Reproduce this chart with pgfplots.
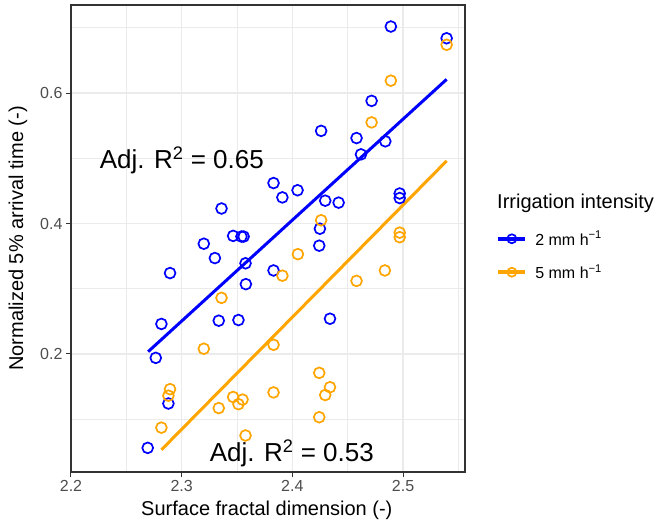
\documentclass[border=0pt]{standalone}
\usepackage{fontspec}
\setmainfont{Liberation Sans}
\usepackage{pgfplots}
\pgfplotsset{compat=1.18}
\usepackage{pgfplotstable}
\definecolor{grey92}{RGB}{235,235,235}
\definecolor{grey30}{RGB}{77,77,77}
\definecolor{grey20}{RGB}{51,51,51}
\definecolor{ggorange}{RGB}{255,165,0}
\definecolor{ggblue}{RGB}{0,0,255}
\pgfplotstableread{
x y
2.2693 0.056
2.2766 0.194
2.2817 0.246
2.2880 0.124
2.2895 0.324
2.3200 0.369
2.3300 0.347
2.3335 0.251
2.3360 0.423
2.3465 0.381
2.3513 0.252
2.3540 0.380
2.3560 0.380
2.3577 0.339
2.3580 0.307
2.3830 0.462
2.3830 0.328
2.3910 0.440
2.4047 0.451
2.4243 0.366
2.4249 0.392
2.4260 0.542
2.4297 0.435
2.4340 0.254
2.4418 0.432
2.4580 0.531
2.4620 0.506
2.4716 0.588
2.4840 0.526
2.4890 0.702
2.4970 0.446
2.4970 0.439
2.5394 0.684
}\bluedata
\pgfplotstableread{
x y
2.2817 0.087
2.2880 0.136
2.2895 0.146
2.3200 0.208
2.3335 0.117
2.3360 0.286
2.3465 0.134
2.3513 0.123
2.3550 0.130
2.3577 0.075
2.3830 0.214
2.3830 0.141
2.3910 0.320
2.4050 0.353
2.4243 0.171
2.4243 0.103
2.4260 0.405
2.4297 0.137
2.4340 0.149
2.4580 0.312
2.4716 0.555
2.4836 0.328
2.4890 0.619
2.4970 0.386
2.4970 0.379
2.5394 0.674
}\orangedata
\begin{document}
\begin{tikzpicture}
\begin{axis}[
  scale only axis,
  width=394bp, height=467bp,
  xmin=2.2, xmax=2.556, ymin=0.019, ymax=0.735,
  xtick={2.2,2.3,2.4,2.5}, ytick={0.2,0.4,0.6},
  xticklabels={2.2,2.3,2.4,2.5}, yticklabels={0.2,0.4,0.6},
  minor xtick={2.25,2.35,2.45,2.55}, minor ytick={0.1,0.3,0.5,0.7},
  grid=both,
  major grid style={grey92, line width=1.6bp},
  minor grid style={grey92, line width=0.8bp},
  minor tick length=0pt,
  major tick length=5bp,
  tick align=outside,
  xtick pos=bottom, ytick pos=left,
  tick style={grey20, line width=1bp},
  axis line style={grey20, line width=1.1bp},
  /pgf/number format/assume math mode=true,
  tick label style={font=\fontsize{16bp}{18bp}\selectfont, text=grey30},
  xlabel={Surface fractal dimension (-)},
  ylabel={Normalized 5\% arrival time (-)},
  label style={font=\fontsize{20bp}{22bp}\selectfont},
  xlabel style={at={(axis description cs:0.497,-0.0814)}, anchor=center},
  ylabel style={at={(axis description cs:-0.1345,0.5)}, anchor=center, rotate=0},
  clip=false,
  legend style={draw=none, fill=none, at={(axis description cs:1.079,0.4636)}, anchor=west,
    font=\fontsize{16bp}{18bp}\selectfont, row sep=14bp, inner sep=0pt},
  legend cell align=left,
  legend image code/.code={\draw[mark repeat=2,mark phase=2,#1] plot coordinates {(0bp,0bp) (13.5bp,0bp) (27bp,0bp)};},
]
\addplot[only marks, mark=o, mark size=5.4bp, ggblue, mark options={line width=1.7bp}, forget plot] table {\bluedata};
\addplot[only marks, mark=o, mark size=5.4bp, ggorange, mark options={line width=1.7bp}, forget plot] table {\orangedata};
\addplot[ggblue, line width=3bp, forget plot] coordinates {(2.2697,0.2035) (2.5394,0.621)};
\addplot[ggorange, line width=3bp, forget plot] coordinates {(2.2817,0.053) (2.5394,0.496)};
\addlegendimage{ggblue, line width=4bp, mark=o, mark size=4.5bp, mark options={line width=1.7bp}}
\addlegendentry{\hspace*{6bp}2 mm h\textsuperscript{−1}}
\addlegendimage{ggorange, line width=4bp, mark=o, mark size=4.5bp, mark options={line width=1.7bp}}
\addlegendentry{\hspace*{6bp}5 mm h\textsuperscript{−1}}
\node[font=\fontsize{26bp}{28bp}\selectfont, anchor=center] at (axis cs:2.3001,0.497) {Adj. R\textsuperscript{2} = 0.65};
\node[font=\fontsize{26bp}{28bp}\selectfont, anchor=center] at (axis cs:2.3995,0.048) {Adj. R\textsuperscript{2} = 0.53};
\end{axis}
\node[font=\fontsize{20bp}{22bp}\selectfont, anchor=west, inner sep=0pt] at (426bp,269bp) {Irrigation intensity};
\pgfresetboundingbox
\path[use as bounding box] (-71bp,-51bp) rectangle (586bp,472bp);
\end{tikzpicture}
\end{document}
